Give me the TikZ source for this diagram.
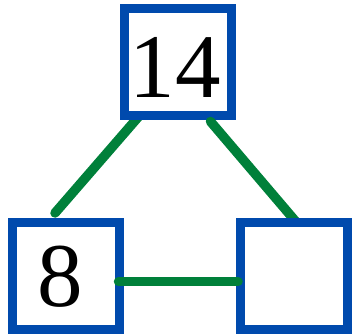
\documentclass[tikz,border=0pt]{standalone}
\usepackage{fontspec}
\setmainfont{Liberation Serif}
\pgfdeclarelayer{back}
\pgfdeclarelayer{mid}
\pgfdeclarelayer{front}
\pgfsetlayers{back,main,mid,front}
\definecolor{boxblue}{RGB}{0,74,173}
\definecolor{linkgreen}{RGB}{0,128,58}
\begin{document}
\begin{tikzpicture}[x=1pt,y=1pt,
  numbox/.style={draw=boxblue, line width=9pt, fill=white, minimum size=107pt, inner sep=0pt},
  numtext/.style={inner sep=0pt, font=\fontsize{91}{91}\selectfont},
  link/.style={draw=linkgreen, line width=9.5pt, line cap=round}]
\useasboundingbox (0,0) rectangle (354,336);
\node[numbox] (t) at (178,274) {};
\begin{pgfonlayer}{front}
\node[numbox] (l) at (66,60) {};
\node[numbox] (r) at (294,60) {};
\end{pgfonlayer}
\node[numtext] (t14) at (175,269) {14};
\begin{pgfonlayer}{front}
\node[numtext] (l8) at (60.5,59.5) {8};
\end{pgfonlayer}
\begin{pgfonlayer}{back}
\draw[link] ([shift={(-38,-53)}]t.center) coordinate (ta) -- ([shift={(-11,63)}]l.center) coordinate (la);
\end{pgfonlayer}
\begin{pgfonlayer}{mid}
\draw[link] ([shift={(32.5,-59.5)}]t.center) coordinate (tb) -- ([shift={(3,53)}]r.center) coordinate (rb);
\end{pgfonlayer}
\begin{pgfonlayer}{front}
\draw[link] ([shift={(52.5,-5.7)}]l.center) coordinate (lc) -- ([shift={(-56,-5.7)}]r.center) coordinate (rc);
\end{pgfonlayer}
\end{tikzpicture}
\end{document}
